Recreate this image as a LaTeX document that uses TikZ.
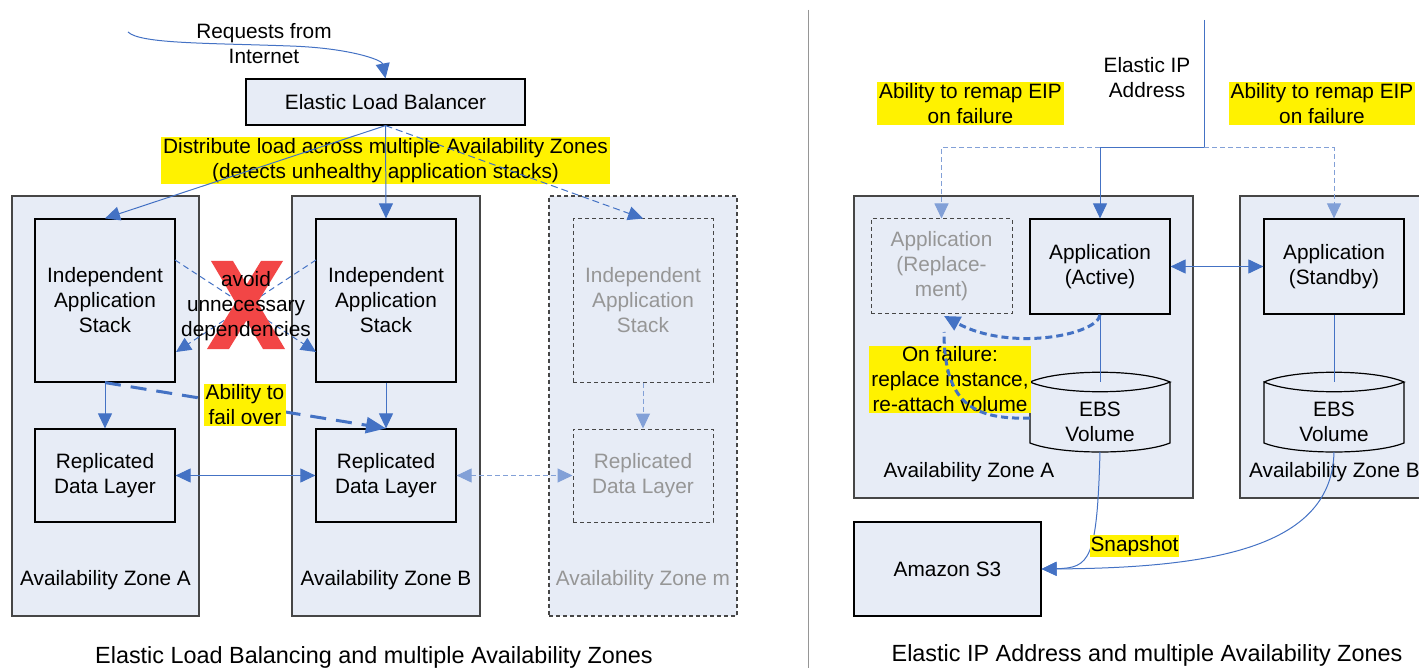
\documentclass[tikz,border=0pt]{standalone}
\usepackage{fontspec}
\setmainfont{Liberation Sans}
\usetikzlibrary{arrows.meta}
\definecolor{boxfill}{RGB}{231,236,246}
\definecolor{zoneborder}{RGB}{70,70,70}
\definecolor{lineblue}{RGB}{68,114,196}
\definecolor{lightblue}{RGB}{130,160,215}
\definecolor{graytext}{RGB}{150,150,150}
\definecolor{xred}{RGB}{242,70,70}
\definecolor{sepgray}{RGB}{150,150,150}
\begin{document}
\begin{tikzpicture}[x=1pt,y=-1pt,
  font=\fontsize{20.8pt}{25pt}\selectfont,
  zonebox/.style={draw=zoneborder, fill=boxfill, line width=1.3pt, inner sep=0pt},
  zonedash/.style={draw=zoneborder, fill=boxfill, line width=1.1pt, dash pattern=on 4pt off 3pt, inner sep=0pt},
  innerbox/.style={draw=black, fill=boxfill, line width=1.2pt, inner sep=0pt, align=center},
  innerdash/.style={draw=zoneborder, fill=boxfill, line width=1pt, dash pattern=on 4pt off 3pt, inner sep=0pt, align=center, text=graytext},
  ylabel/.style={fill=yellow, inner xsep=2pt, inner ysep=1pt, align=center},
  plain/.style={inner sep=0pt, align=center},
  caption/.style={inner sep=0pt, font=\fontsize{23.4pt}{28pt}\selectfont},
  tip/.style={-{Triangle[length=15pt,width=14pt]}},
  tips/.style={{Triangle[length=15pt,width=14pt]}-{Triangle[length=15pt,width=14pt]}},
  conn/.style={draw=lineblue, line width=1pt},
  dconn/.style={draw=lineblue, line width=1pt, dash pattern=on 7pt off 4pt},
  lconn/.style={draw=lightblue, line width=1pt, dash pattern=on 5pt off 3pt},
  thickdash/.style={draw=lineblue, line width=3pt, dash pattern=on 16pt off 10pt},
  dotdash/.style={draw=lineblue, line width=3pt, dash pattern=on 7pt off 4pt}
]
\useasboundingbox (0,0) rectangle (1419,668);

% ---------------- Left panel ----------------
\node[plain] (req) at (264,43.5) {Requests from\\Internet};
\node[innerbox, minimum width=279pt, minimum height=46pt] (elb) at (385.5,102) {Elastic Load Balancer};
\coordinate (reqstart) at (128,32);
\draw[conn, tip] (reqstart) .. controls (140,44) and (210,43) .. (290,46) .. controls (350,48) and (382,60) .. (elb.north);

\node[zonebox, minimum width=187pt, minimum height=420pt] (zA) at (105.5,406) {};
\node[zonebox, minimum width=188pt, minimum height=420pt] (zB) at (386,406) {};
\node[zonedash, minimum width=188pt, minimum height=420pt] (zM) at (643,406) {};
\node[plain] (zAl) at (105.5,580) {Availability Zone A};
\node[plain] (zBl) at (386,580) {Availability Zone B};
\node[plain, text=graytext] (zMl) at (643,580) {Availability Zone m};

\node[innerbox, minimum width=140pt, minimum height=163pt] (sA) at (105,300.5) {Independent\\Application\\Stack};
\node[innerbox, minimum width=140pt, minimum height=163pt] (sB) at (386,300.5) {Independent\\Application\\Stack};
\node[innerdash, minimum width=140pt, minimum height=163pt] (sM) at (643,300.5) {Independent\\Application\\Stack};
\node[innerbox, minimum width=140pt, minimum height=93pt] (dA) at (105,475.5) {Replicated\\Data Layer};
\node[innerbox, minimum width=140pt, minimum height=93pt] (dB) at (386,475.5) {Replicated\\Data Layer};
\node[innerdash, minimum width=140pt, minimum height=93pt] (dM) at (643,475.5) {Replicated\\Data Layer};

\node[ylabel] (dist) at (385.5,160.5) {Distribute load across multiple Availability Zones\\(detects unhealthy application stacks)};

\draw[conn, tip] (elb.south) -- (sA.north);
\draw[conn, tip] (elb.south) -- (sB.north);
\draw[dconn, tip] (elb.south) -- (sM.north);

\draw[conn, tip] (sA.south) -- (dA.north);
\draw[conn, tip] (sB.south) -- (dB.north);
\draw[lconn, tip] (sM.south) -- (dM.north);
\draw[conn, tips] (dA.east) -- (dB.west);
\draw[lconn, tips] (dB.east) -- (dM.west);

% avoid unnecessary dependencies
\coordinate (cA1) at (175,260);
\coordinate (cA2) at (176,352);
\coordinate (cB1) at (316,260);
\coordinate (cB2) at (316,352);
\draw[dconn, dash pattern=on 6pt off 4pt, tip] (cA1) -- (cB2);
\draw[dconn, dash pattern=on 6pt off 4pt, tip] (cB1) -- (cA2);
\fill[xred] (211,261) -- (233,261) -- (285,349) -- (263,349) -- cycle;
\fill[xred] (261,261) -- (283,261) -- (229,349) -- (207,349) -- cycle;
\node[plain] (avoid) at (246,306.5) {avoid\\unnecessary\\dependencies};

% fail over
\draw[thickdash, -{Triangle[length=20pt,width=16pt]}] (sA.south) -- (dB.north);
\node[ylabel] (fail) at (245,405) {Ability to\\fail over};

\node[caption] (capL) at (374,657) {Elastic Load Balancing and multiple Availability Zones};

% separator
\draw[sepgray, line width=1pt] (808,10) -- (808,668);

% ---------------- Right panel ----------------
\node[plain] (eip) at (1147,78) {Elastic IP\\Address};
\node[ylabel] (remapL) at (970.5,103.5) {Ability to remap EIP\\on failure};
\node[ylabel] (remapR) at (1322,103.5) {Ability to remap EIP\\on failure};

\node[zonebox, minimum width=339pt, minimum height=302pt] (rzA) at (1023.5,347) {};
\node[zonebox, minimum width=190pt, minimum height=302pt] (rzB) at (1335,347) {};
\node[plain] (rzAl) at (969,472) {Availability Zone A};
\node[plain] (rzBl) at (1334.5,472) {Availability Zone B};

\node[innerdash, minimum width=141pt, minimum height=95pt] (rep) at (941.5,266.5) {Application\\(Replace-\\ment)};
\node[innerbox, minimum width=140pt, minimum height=95pt] (act) at (1100,266.5) {Application\\(Active)};
\node[innerbox, minimum width=140pt, minimum height=95pt] (stb) at (1334,266.5) {Application\\(Standby)};

% EBS cylinders
\foreach \cx/\nm in {1100/ebsA, 1334/ebsB}{
  \fill[boxfill] (\cx-70,382) .. controls (\cx-40,369) and (\cx+40,369) .. (\cx+70,382)
     -- (\cx+70,443) .. controls (\cx+40,455) and (\cx-40,455) .. (\cx-70,443) -- cycle;
  \draw[black, line width=1.2pt] (\cx-70,382) .. controls (\cx-40,369) and (\cx+40,369) .. (\cx+70,382)
     .. controls (\cx+40,395) and (\cx-40,395) .. (\cx-70,382) -- (\cx-70,443)
     .. controls (\cx-40,455) and (\cx+40,455) .. (\cx+70,443) -- (\cx+70,382);
  \node[plain] (\nm) at (\cx,422) {EBS\\Volume};
  \coordinate (\nm top) at (\cx,382);
  \coordinate (\nm bot) at (\cx,452);
  \coordinate (\nm left) at (\cx-70,418);
}

\draw[conn] (act.south) -- (ebsAtop);
\draw[conn] (stb.south) -- (ebsBtop);
\draw[conn, tips] (act.east) -- (stb.west);

% EIP lines
\coordinate (eiptop) at (1204,20);
\coordinate (eipj) at (1204,148);
\coordinate (eipa) at (1100,148);
\draw[conn] (eiptop) -- (eipj) -- (eipa);
\draw[conn, tip] (eipa) -- (act.north);
\draw[lconn, tip] (eipa) -| (rep.north);
\draw[lconn, tip] (eipj) -| (stb.north);

% on failure
\node[ylabel] (onfail) at (950,379.5) {On failure:\\replace instance,\\re-attach volume};
\coordinate (reptip) at (944,316);
\draw[dotdash, -{Triangle[length=16pt,width=15pt]}] (act.south) .. controls (1098,335) and (1010,352) .. (reptip);
\draw[dotdash] (ebsAleft) .. controls (972,420) and (944,402) .. (944,332);

% S3 and snapshots
\node[innerbox, minimum width=187pt, minimum height=94pt] (s3) at (947.5,569) {Amazon S3};
\draw[conn, tip] (ebsAbot) .. controls (1097,560) and (1090,568) .. (s3.east);
\draw[conn, tip] (ebsBbot) .. controls (1332,545) and (1220,568) .. (s3.east);
\node[fill=yellow, inner xsep=1pt, inner ysep=1pt] (snap) at (1134.5,546) {Snapshot};

\node[caption] (capR) at (1147,655) {Elastic IP Address and multiple Availability Zones};
\end{tikzpicture}
\end{document}
